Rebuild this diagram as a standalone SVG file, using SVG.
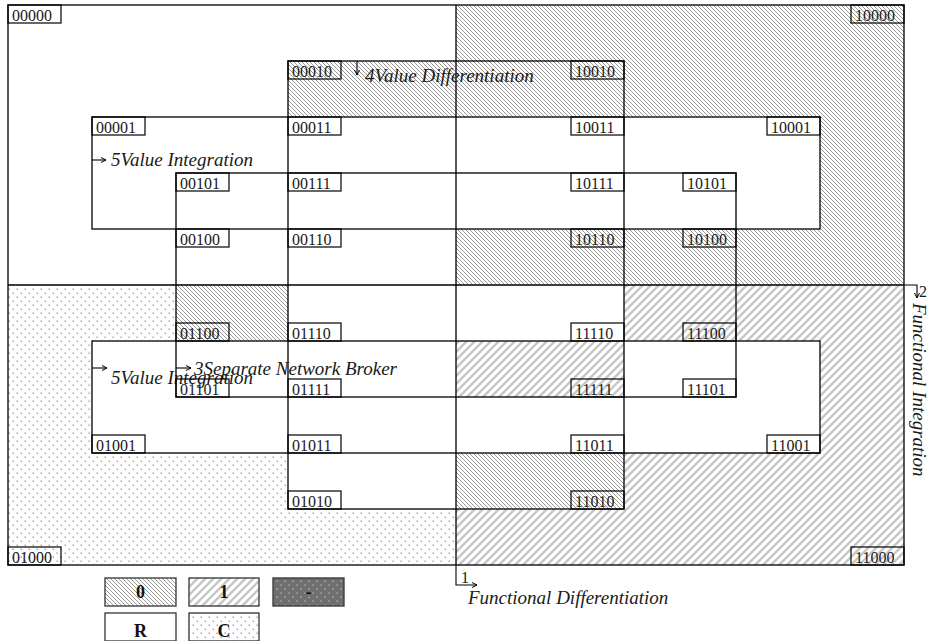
<svg xmlns="http://www.w3.org/2000/svg" width="933" height="641" viewBox="0 0 933 641">
<defs>
<pattern id="h0" patternUnits="userSpaceOnUse" width="4" height="4"><path d="M-1,-1 L5,5 M-1,3 L1,5 M3,-1 L5,1" stroke="#8c8c8c" stroke-width="0.9"/></pattern>
<pattern id="h1" patternUnits="userSpaceOnUse" width="8" height="8"><path d="M-2,10 L10,-2 M-6,6 L6,-6 M2,14 L14,2" stroke="#c6c6c6" stroke-width="2.4"/></pattern>
<pattern id="dots" patternUnits="userSpaceOnUse" width="8" height="8"><rect x="0.5" y="0.5" width="1.4" height="1.4" fill="#9c9c9c"/><rect x="4.5" y="4.5" width="1.4" height="1.4" fill="#9c9c9c"/></pattern>
<pattern id="dk" patternUnits="userSpaceOnUse" width="8" height="8"><rect width="8" height="8" fill="#6f6f6f"/><rect x="0.5" y="0.5" width="1.2" height="1.2" fill="#c8c8c8"/><rect x="4.5" y="4.5" width="1.2" height="1.2" fill="#c8c8c8"/></pattern>
<marker id="ah" markerWidth="8" markerHeight="8" refX="6" refY="4" orient="auto" markerUnits="userSpaceOnUse"><path d="M1,1.5 L6,4 L1,6.5" fill="none" stroke="#000" stroke-width="1"/></marker>
</defs>
<style>
.ln{fill:none;stroke:#000;stroke-width:1.3}
.lb{fill:none;stroke:#000;stroke-width:1.2}
.lt{font-family:"Liberation Serif",serif;font-size:16px;fill:#1a1a1a}
.it{font-family:"Liberation Serif",serif;font-size:19px;font-style:italic;fill:#1a1a1a}
.lg{font-family:"Liberation Serif",serif;font-size:18px;font-weight:bold;fill:#111;text-anchor:middle}
.lgb{stroke:#333;stroke-width:1.3}
.cn{fill:none;stroke:#000;stroke-width:1.1;marker-end:url(#ah)}
</style>
<rect width="933" height="641" fill="#fff"/>
<g id="cells">
<rect x="456" y="5" width="448" height="280" fill="url(#h0)"/>
<rect x="8" y="285" width="448" height="280" fill="url(#dots)"/>
<rect x="456" y="285" width="448" height="280" fill="url(#h1)"/>
<rect x="288" y="61" width="168" height="56" fill="url(#h0)"/>
<rect x="92" y="117" width="728" height="112" fill="#fff"/>
<rect x="176" y="285" width="448" height="56" fill="#fff"/>
<rect x="176" y="285" width="112" height="56" fill="url(#h0)"/>
<rect x="92" y="341" width="728" height="112" fill="#fff"/>
<rect x="456" y="341" width="168" height="56" fill="url(#h1)"/>
<rect x="288" y="453" width="336" height="56" fill="#fff"/>
<rect x="456" y="453" width="168" height="56" fill="url(#h0)"/>
</g>
<g id="grid">
<rect class="ln" x="8" y="5" width="896" height="560"/>
<rect class="ln" x="288" y="61" width="336" height="448"/>
<rect class="ln" x="92" y="117" width="728" height="112"/>
<rect class="ln" x="92" y="341" width="728" height="112"/>
<rect class="ln" x="176" y="173" width="560" height="224"/>
<path class="ln" d="M8,285 H904 M456,5 V565"/>
</g>
<g id="connectors">
<path class="cn" d="M456,565 V585 H477"/>
<path class="cn" d="M904,285 H917 V298"/>
<path class="cn" d="M357,61 V75"/>
<path class="cn" d="M92,160 H106"/>
<path class="cn" d="M92,368 H107"/>
<path class="cn" d="M176,368 H191"/>
</g>
<g id="axis1"><text class="lt" x="461" y="583">1</text><text class="it" x="468" y="604">Functional Differentiation</text></g>
<g id="axis2"><text class="lt" x="919" y="297">2</text><text class="it" transform="translate(913,303) rotate(90)">Functional Integration</text></g>
<g id="axis4"><text class="it" x="365" y="82">4Value Differentiation</text></g>
<g id="axis5a"><text class="it" x="111" y="166">5Value Integration</text></g>
<g id="axis5b"><text class="it" x="111" y="384">5Value Integration</text></g>
<g id="axis3"><text class="it" x="194" y="375">3Separate Network Broker</text></g>
<g id="n00000"><rect class="lb" x="8" y="5" width="53" height="18"/><text class="lt" x="12" y="20.5">00000</text></g>
<g id="n00010"><rect class="lb" x="288" y="61" width="53" height="18"/><text class="lt" x="292" y="76.5">00010</text></g>
<g id="n00001"><rect class="lb" x="92" y="117" width="53" height="18"/><text class="lt" x="96" y="132.5">00001</text></g>
<g id="n00011"><rect class="lb" x="288" y="117" width="53" height="18"/><text class="lt" x="292" y="132.5">00011</text></g>
<g id="n00101"><rect class="lb" x="176" y="173" width="53" height="18"/><text class="lt" x="180" y="188.5">00101</text></g>
<g id="n00111"><rect class="lb" x="288" y="173" width="53" height="18"/><text class="lt" x="292" y="188.5">00111</text></g>
<g id="n00100"><rect class="lb" x="176" y="229" width="53" height="18"/><text class="lt" x="180" y="244.5">00100</text></g>
<g id="n00110"><rect class="lb" x="288" y="229" width="53" height="18"/><text class="lt" x="292" y="244.5">00110</text></g>
<g id="n10000"><rect class="lb" x="851" y="5" width="53" height="18"/><text class="lt" x="855" y="20.5">10000</text></g>
<g id="n10010"><rect class="lb" x="571" y="61" width="53" height="18"/><text class="lt" x="575" y="76.5">10010</text></g>
<g id="n10011"><rect class="lb" x="571" y="117" width="53" height="18"/><text class="lt" x="575" y="132.5">10011</text></g>
<g id="n10001"><rect class="lb" x="767" y="117" width="53" height="18"/><text class="lt" x="771" y="132.5">10001</text></g>
<g id="n10111"><rect class="lb" x="571" y="173" width="53" height="18"/><text class="lt" x="575" y="188.5">10111</text></g>
<g id="n10101"><rect class="lb" x="683" y="173" width="53" height="18"/><text class="lt" x="687" y="188.5">10101</text></g>
<g id="n10110"><rect class="lb" x="571" y="229" width="53" height="18"/><text class="lt" x="575" y="244.5">10110</text></g>
<g id="n10100"><rect class="lb" x="683" y="229" width="53" height="18"/><text class="lt" x="687" y="244.5">10100</text></g>
<g id="n01100"><rect class="lb" x="176" y="323" width="53" height="18"/><text class="lt" x="180" y="338.5">01100</text></g>
<g id="n01110"><rect class="lb" x="288" y="323" width="53" height="18"/><text class="lt" x="292" y="338.5">01110</text></g>
<g id="n01101"><rect class="lb" x="176" y="379" width="53" height="18"/><text class="lt" x="180" y="394.5">01101</text></g>
<g id="n01111"><rect class="lb" x="288" y="379" width="53" height="18"/><text class="lt" x="292" y="394.5">01111</text></g>
<g id="n01001"><rect class="lb" x="92" y="435" width="53" height="18"/><text class="lt" x="96" y="450.5">01001</text></g>
<g id="n01011"><rect class="lb" x="288" y="435" width="53" height="18"/><text class="lt" x="292" y="450.5">01011</text></g>
<g id="n01010"><rect class="lb" x="288" y="491" width="53" height="18"/><text class="lt" x="292" y="506.5">01010</text></g>
<g id="n01000"><rect class="lb" x="8" y="547" width="53" height="18"/><text class="lt" x="12" y="562.5">01000</text></g>
<g id="n11110"><rect class="lb" x="571" y="323" width="53" height="18"/><text class="lt" x="575" y="338.5">11110</text></g>
<g id="n11100"><rect class="lb" x="683" y="323" width="53" height="18"/><text class="lt" x="687" y="338.5">11100</text></g>
<g id="n11111"><rect class="lb" x="571" y="379" width="53" height="18"/><text class="lt" x="575" y="394.5">11111</text></g>
<g id="n11101"><rect class="lb" x="683" y="379" width="53" height="18"/><text class="lt" x="687" y="394.5">11101</text></g>
<g id="n11011"><rect class="lb" x="571" y="435" width="53" height="18"/><text class="lt" x="575" y="450.5">11011</text></g>
<g id="n11001"><rect class="lb" x="767" y="435" width="53" height="18"/><text class="lt" x="771" y="450.5">11001</text></g>
<g id="n11010"><rect class="lb" x="571" y="491" width="53" height="18"/><text class="lt" x="575" y="506.5">11010</text></g>
<g id="n11000"><rect class="lb" x="851" y="547" width="53" height="18"/><text class="lt" x="855" y="562.5">11000</text></g>
<g id="legend">
<rect class="lgb" x="105" y="578" width="71" height="28" fill="url(#h0)"/><text class="lg" x="140.5" y="598">0</text>
<rect class="lgb" x="189" y="578" width="70" height="28" fill="url(#h1)"/><text class="lg" x="224" y="598">1</text>
<rect class="lgb" x="273" y="578" width="71" height="28" fill="url(#dk)"/><text class="lg" x="308.5" y="598">-</text>
<rect class="lgb" x="105" y="613" width="71" height="28" fill="#fff"/><text class="lg" x="140.5" y="637">R</text>
<rect class="lgb" x="189" y="613" width="70" height="28" fill="url(#dots)"/><text class="lg" x="224" y="637">C</text>
</g>
</svg>
